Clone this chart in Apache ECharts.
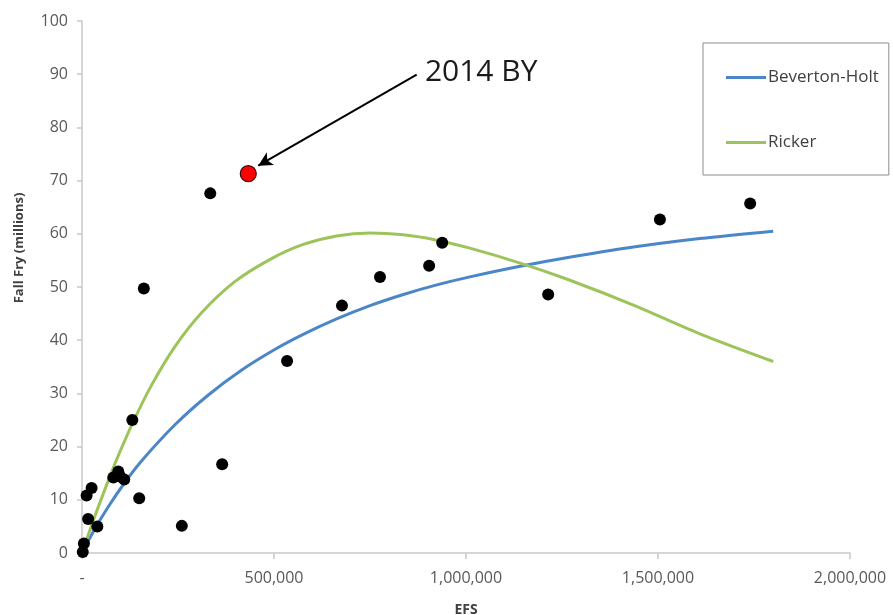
<!DOCTYPE html>
<html>
<head>
<meta charset="utf-8">
<script src="https://cdn.jsdelivr.net/npm/echarts@6/dist/echarts.min.js"></script>
<style>
  html, body { margin: 0; padding: 0; background: #ffffff; }
  #chart { width: 893px; height: 615px; }
</style>
</head>
<body>
<div id="chart"></div>
<script>
// Observed brood years: spawners (EFS) and resulting fall fry (millions)
const efs = [2000, 5000, 16000, 12000, 25000, 40000, 131000, 81500, 94500, 99000, 110000,
             149000, 260000, 365000, 161000, 334000, 534000, 677000, 776000, 904000, 938000,
             1214000, 1505000, 1740000];
const fallFry = [0.2, 1.8, 6.4, 10.8, 12.2, 5.0, 25.0, 14.2, 15.3, 14.4, 13.8,
                 10.3, 5.1, 16.7, 49.7, 67.6, 36.1, 46.5, 51.9, 54.0, 58.3,
                 48.6, 62.7, 65.7];

// Highlighted brood year
const by2014Efs = 433000;
const by2014Fry = 71.3;

// Fitted Beverton-Holt curve, read along its length
const bhEfs = [0, 34000, 68500, 112000, 155000, 242000, 329000, 416000, 503000, 576000, 663000,
               750000, 837000, 924000, 1010000, 1141000, 1262000, 1436000, 1609000, 1800000];
const bhFry = [0, 4.6, 8.7, 13.3, 17.3, 24.1, 29.7, 34.4, 38.3, 41.1, 44.0,
               46.5, 48.6, 50.4, 51.9, 53.9, 55.5, 57.5, 59.1, 60.5];

// Fitted Ricker curve, read along its length
const rickerEfs = [0, 34000, 68500, 94500, 133600, 181500, 242000, 312000, 398000, 490000, 576000,
                   663000, 750000, 837000, 924000, 1010000, 1141000, 1262000, 1436000, 1609000, 1800000];
const rickerFry = [0, 7.0, 13.6, 18.3, 24.7, 31.6, 38.8, 45.2, 51.0, 55.2, 58.0,
                   59.6, 60.15, 59.8, 58.8, 57.3, 54.5, 51.5, 46.6, 41.2, 36.0];

// Call-out arrow and its caption, in data units
const calloutText = '2014 BY';
const calloutFrom = [871600, 89.9];
const calloutTo = [459000, 72.8];
const calloutTextAt = [893000, 90.4];

// Axis ticks
const xMin = 0, xMax = 2000000, xStep = 500000;
const yMin = 0, yMax = 100, yStep = 10;

const pairs = (xs, ys) => xs.map((x, i) => [x, ys[i]]);

const chart = echarts.init(document.getElementById('chart'), null, { renderer: 'canvas' });

const axisGray = '#c9c9c9';
const labelGray = '#595959';
const fontFam = '"Open Sans", "Noto Sans", sans-serif';

chart.setOption({
  backgroundColor: '#ffffff',
  animation: false,
  textStyle: { fontFamily: fontFam },
  grid: { left: 82, right: 43, top: 21, bottom: 62, containLabel: false, outerBoundsMode: 'none' },
  legend: {
    data: ['Beverton-Holt', 'Ricker'],
    orient: 'vertical',
    left: 703,
    top: 43,
    icon: 'rect',
    itemWidth: 40,
    itemHeight: 3,
    itemGap: 48,
    padding: [26, 10, 24, 23],
    borderColor: '#8c8c8c',
    borderWidth: 1,
    borderRadius: 0,
    textStyle: { fontSize: 17, color: '#404040', fontFamily: fontFam, padding: [0, 0, 0, -3] }
  },
  xAxis: {
    type: 'value',
    min: xMin,
    max: xMax,
    interval: xStep,
    name: 'EFS',
    nameLocation: 'middle',
    nameGap: 50,
    nameTextStyle: { fontSize: 14, fontWeight: 'bold', color: '#404040', fontFamily: fontFam },
    axisLine: { show: true, lineStyle: { color: axisGray, width: 1.5 } },
    axisTick: { show: true, length: 6, lineStyle: { color: axisGray, width: 1.5 } },
    axisLabel: {
      fontSize: 16,
      color: labelGray,
      margin: 17,
      fontFamily: fontFam,
      formatter: v => (v === 0 ? '-' : v.toLocaleString('en-US'))
    },
    splitLine: { show: false }
  },
  yAxis: {
    type: 'value',
    min: yMin,
    max: yMax,
    interval: yStep,
    name: 'Fall Fry (millions)',
    nameLocation: 'middle',
    nameGap: 56,
    nameTextStyle: { fontSize: 13, fontWeight: 'bold', color: '#404040', fontFamily: fontFam,
                     padding: [0, 0, 0, 78] },
    axisLine: { show: true, lineStyle: { color: axisGray, width: 1.5 } },
    axisTick: { show: true, length: 5, lineStyle: { color: axisGray, width: 1.5 } },
    axisLabel: { fontSize: 16, color: labelGray, margin: 14, fontFamily: fontFam },
    splitLine: { show: false }
  },
  series: [
    {
      name: 'Beverton-Holt',
      type: 'line',
      data: pairs(bhEfs, bhFry),
      smooth: 0.3,
      showSymbol: false,
      symbol: 'none',
      color: '#4a86c8',
      lineStyle: { width: 3, color: '#4a86c8' },
      z: 2
    },
    {
      name: 'Ricker',
      type: 'line',
      data: pairs(rickerEfs, rickerFry),
      smooth: 0.3,
      showSymbol: false,
      symbol: 'none',
      color: '#9cc45a',
      lineStyle: { width: 3, color: '#9cc45a' },
      z: 2
    },
    {
      name: 'Observed',
      type: 'scatter',
      data: pairs(efs, fallFry),
      symbol: 'circle',
      symbolSize: 12,
      itemStyle: { color: '#000000', borderWidth: 0, opacity: 1 },
      z: 3
    },
    {
      name: calloutText,
      type: 'scatter',
      data: [[by2014Efs, by2014Fry]],
      symbol: 'circle',
      symbolSize: 16,
      itemStyle: { color: '#ff0000', borderColor: '#3a0a0a', borderWidth: 1.2, opacity: 1 },
      z: 4,
      markLine: {
        silent: true,
        symbol: ['none', 'arrow'],
        symbolSize: [11, 14],
        lineStyle: { color: '#000000', width: 2, type: 'solid' },
        label: { show: false },
        data: [[{ coord: calloutFrom }, { coord: calloutTo }]]
      },
      markPoint: {
        silent: true,
        symbol: 'circle',
        symbolSize: 0,
        label: {
          show: true,
          position: 'right',
          distance: 0,
          formatter: calloutText,
          fontSize: 30,
          color: '#1a1a1a',
          fontFamily: fontFam
        },
        data: [{ coord: calloutTextAt }]
      }
    }
  ]
});
</script>
</body>
</html>
